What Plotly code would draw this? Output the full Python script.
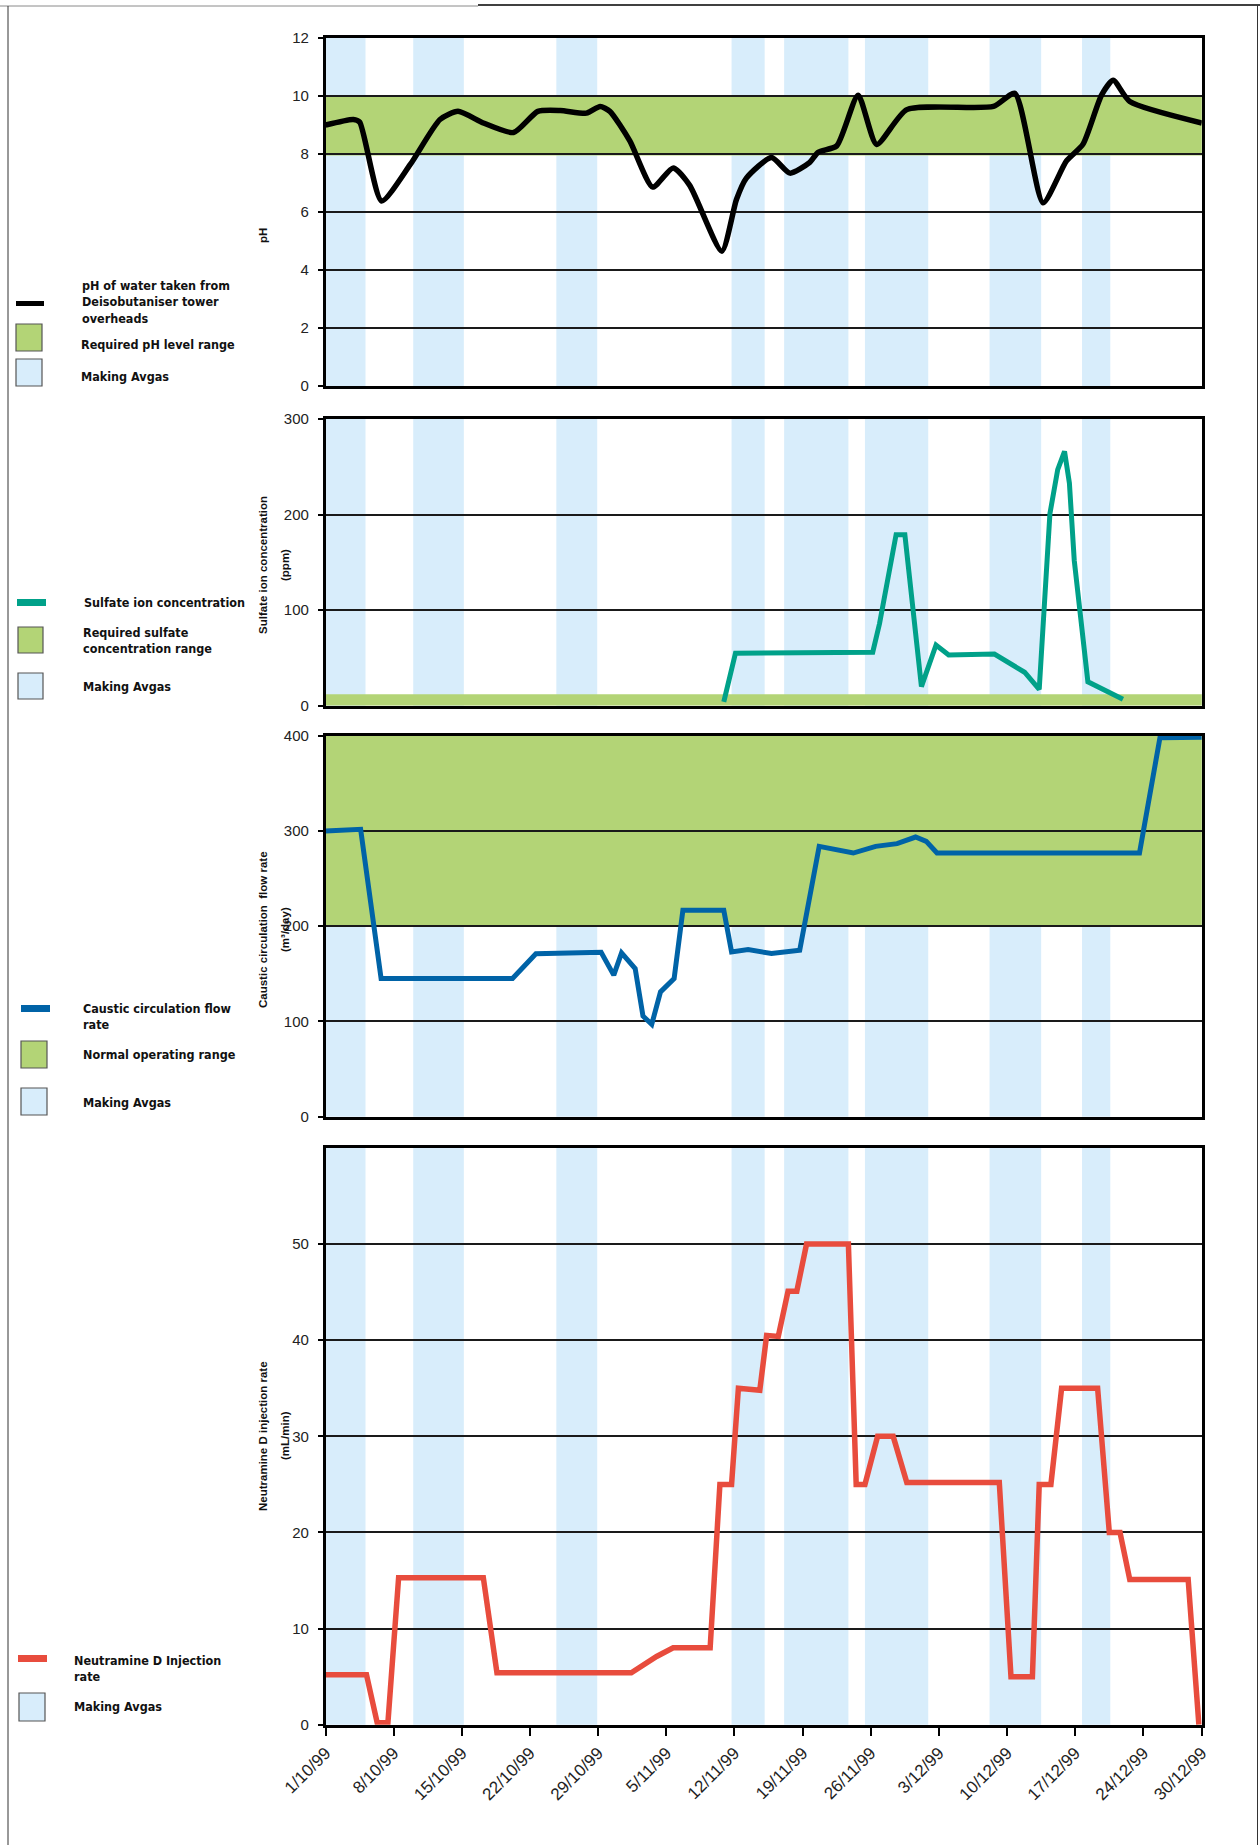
import plotly.graph_objects as go
import pandas as pd

W, H = 1260, 1845
START = pd.Timestamp("1999-10-01")
END = pd.Timestamp("1999-12-30")

# ---------------- data (x values are days after 1 Oct 1999) ----------------
avgas_start_day = [0, 9.0, 23.7, 41.7, 47.1, 55.4, 68.2, 77.7]
avgas_end_day = [4.1, 14.2, 27.9, 45.1, 53.7, 61.9, 73.5, 80.6]

ph_day = [0, 2.85, 3.5, 5.75, 8.7, 11.75, 13.6, 16.2, 19.3, 21.8, 24.1, 26.8, 28.2, 29.2,
          31.25, 33.6, 35.7, 37.4, 40.7, 42.2, 43.2, 45.8, 47.7, 49.7, 50.6, 52.5, 54.7,
          56.6, 59.7, 68.6, 70.8, 73.7, 76.1, 77.8, 79.7, 80.9, 82.6, 90]
ph_value = [9.0, 9.19, 9.1, 6.38, 7.64, 9.19, 9.47, 9.07, 8.74, 9.47, 9.5, 9.41, 9.64, 9.47,
            8.45, 6.86, 7.52, 6.92, 4.65, 6.43, 7.16, 7.88, 7.34, 7.7, 8.06, 8.28, 10.03,
            8.33, 9.53, 9.64, 10.09, 6.32, 7.76, 8.34, 10.03, 10.54, 9.81, 9.07]
ph_range = [7.95, 10]

sulfate_day = [40.9, 42.1, 56.2, 56.9, 58.6, 59.5, 61.2, 62.7, 64.0, 68.7, 71.8, 73.3,
               74.4, 75.2, 75.9, 76.4, 76.9, 78.3, 81.9]
sulfate_value = [4, 55, 56, 86, 179, 179, 20, 63.5, 53, 54, 35, 17,
                 201, 247, 266, 233, 152, 25, 6.7]
sulfate_range = [0, 12]

caustic_day = [0, 3.6, 5.7, 19.2, 21.6, 28.3, 29.6, 30.4, 31.8, 32.6, 33.5, 34.4, 35.8,
               36.7, 40.9, 41.7, 43.4, 45.8, 48.7, 50.7, 54.2, 56.5, 58.7, 60.6, 61.7,
               62.8, 83.6, 85.7, 90]
caustic_value = [300, 301.7, 145, 145, 171, 172.7, 148.6, 172, 155.6, 105.6, 97, 131, 145,
                 216.7, 216.7, 173, 175.5, 171.3, 174.8, 283.8, 276.8, 283.8, 286.7, 293.6,
                 289, 276.8, 276.8, 397.8, 398.5]
caustic_range = [200, 400]

neutramine_day = [0, 4.2, 5.3, 6.4, 7.5, 16.2, 17.6, 31.4, 34.0, 35.7, 39.5, 40.5, 41.7,
                  42.4, 44.6, 45.3, 46.5, 47.5, 48.4, 49.4, 53.7, 54.5, 55.4, 56.7, 58.3,
                  59.7, 69.2, 70.4, 72.6, 73.3, 74.5, 75.6, 79.3, 80.5, 81.6, 82.6, 88.6, 89.7]
neutramine_value = [5.2, 5.2, 0.2, 0.2, 15.3, 15.3, 5.4, 5.4, 7.1, 8.0, 8.0, 25, 25,
                    35, 34.8, 40.5, 40.4, 45.1, 45.1, 50, 50, 25, 25, 30, 30,
                    25.2, 25.2, 5, 5, 25, 25, 35, 35, 20, 20, 15.1, 15.1, 0]

tick_dates = ["1999-10-01", "1999-10-08", "1999-10-15", "1999-10-22", "1999-10-29",
              "1999-11-05", "1999-11-12", "1999-11-19", "1999-11-26", "1999-12-03",
              "1999-12-10", "1999-12-17", "1999-12-24", "1999-12-30"]
tick_labels = ["1/10/99", "8/10/99", "15/10/99", "22/10/99", "29/10/99", "5/11/99",
               "12/11/99", "19/11/99", "26/11/99", "3/12/99", "10/12/99", "17/12/99",
               "24/12/99", "30/12/99"]

# ---------------- styling ----------------
BLUE_BAND = "#d8edfb"
GREEN = "#b3d476"
C_PH = "#000000"
C_SULF = "#00a189"
C_CAUS = "#0063a7"
C_NEUT = "#e84c3d"
TICK_FONT = dict(family="Liberation Sans, Arial, sans-serif", size=15, color="#222222")
XTICK_FONT = dict(family="Liberation Sans, Arial, sans-serif", size=17, color="#222222")
LEG_FONT = dict(family="DejaVu Sans Condensed, DejaVu Sans, sans-serif", size=12.5, color="#111111")
TITLE_FONT = dict(family="Liberation Sans, Arial, sans-serif", size=11.5, color="#111111")


def to_date(days):
    return [START + pd.Timedelta(days=float(d)) for d in days]


def px_x(x):
    return x / W


def px_y(y):
    return 1 - y / H


X_LEFT, X_RIGHT = 325.6, 1201.8
panels = [
    dict(top=38, bottom=386, rng=[0, 12], tickvals=[0, 2, 4, 6, 8, 10, 12]),
    dict(top=419, bottom=705.7, rng=[0, 300], tickvals=[0, 100, 200, 300]),
    dict(top=735.7, bottom=1116.7, rng=[0, 400], tickvals=[0, 100, 200, 300, 400]),
    dict(top=1148, bottom=1724.7, rng=[0, 60], tickvals=[0, 10, 20, 30, 40, 50]),
]

fig = go.Figure()

series = [
    (ph_day, ph_value, C_PH, 5.5, "spline"),
    (sulfate_day, sulfate_value, C_SULF, 5, "linear"),
    (caustic_day, caustic_value, C_CAUS, 5, "linear"),
    (neutramine_day, neutramine_value, C_NEUT, 5.5, "linear"),
]
for i, (dx, dy, col, lw, shape) in enumerate(series):
    sfx = "" if i == 0 else str(i + 1)
    line = dict(color=col, width=lw, shape=shape)
    if shape == "spline":
        line["smoothing"] = 0.6
    fig.add_trace(go.Scatter(x=to_date(dx), y=dy, mode="lines", line=line,
                             xaxis="x" + sfx, yaxis="y" + sfx, showlegend=False,
                             hoverinfo="skip"))

shapes = []
annotations = []
layout = {}
ranges = [ph_range, sulfate_range, caustic_range, None]
for i, p in enumerate(panels):
    sfx = "" if i == 0 else str(i + 1)
    xa = dict(type="date", range=[START, END], domain=[px_x(X_LEFT), px_x(X_RIGHT)],
              anchor="y" + sfx, showgrid=False, zeroline=False, showline=True, mirror=True,
              linecolor="#000000", linewidth=2.5, fixedrange=True, automargin=False)
    if i == 3:
        xa.update(tickmode="array", tickvals=tick_dates, ticktext=tick_labels,
                  ticks="outside", ticklen=9, tickwidth=1.5, tickcolor="#000000",
                  tickangle=-45, tickfont=XTICK_FONT)
    else:
        xa.update(showticklabels=False, ticks="")
    ya = dict(range=p["rng"], domain=[px_y(p["bottom"]), px_y(p["top"])], anchor="x" + sfx,
              tickmode="array", tickvals=p["tickvals"], showgrid=True, gridcolor="#1a1a1a",
              gridwidth=1.5, zeroline=False, showline=True, mirror=True, linecolor="#000000",
              linewidth=2.5, ticks="outside", ticklen=5, tickwidth=1.5, tickcolor="#000000",
              tickfont=TICK_FONT, ticklabelstandoff=6, fixedrange=True, automargin=False)
    layout["xaxis" + sfx] = xa
    layout["yaxis" + sfx] = ya
    xref = "x" + sfx
    yref = "y" + sfx
    for s, e in zip(to_date(avgas_start_day), to_date(avgas_end_day)):
        shapes.append(dict(type="rect", xref=xref, yref=yref + " domain", x0=s, x1=e,
                           y0=0, y1=1, fillcolor=BLUE_BAND, line_width=0, layer="below"))
    if ranges[i] is not None:
        shapes.append(dict(type="rect", xref=xref + " domain", yref=yref, x0=0, x1=1,
                           y0=ranges[i][0], y1=ranges[i][1], fillcolor=GREEN,
                           line_width=0, layer="below"))


# ---------------- legends (drawn manually at the left) ----------------
def rect(x0, x1, y0, y1, fill, border=None):
    shapes.append(dict(type="rect", xref="paper", yref="paper", x0=px_x(x0), x1=px_x(x1),
                       y0=px_y(y1), y1=px_y(y0), fillcolor=fill,
                       line=dict(color=border or fill, width=1.2 if border else 0)))


def text(x, y, t):
    annotations.append(dict(xref="paper", yref="paper", x=px_x(x), y=px_y(y), text=t,
                            showarrow=False, xanchor="left", yanchor="middle", align="left",
                            font=LEG_FONT))


def ytitle(x, y, t):
    annotations.append(dict(xref="paper", yref="paper", x=px_x(x), y=px_y(y), text="<b>" + t + "</b>",
                            showarrow=False, xanchor="center", yanchor="middle",
                            textangle=-90, font=TITLE_FONT))


BORDER = "#555555"
# pH
rect(16, 44, 301, 306, C_PH)
text(80, 302, "<b>pH of water taken from<br>Deisobutaniser tower<br>overheads</b>")
rect(16, 42, 324, 351, GREEN, BORDER)
text(79, 344, "<b>Required pH level range</b>")
rect(16, 42, 359, 386, BLUE_BAND, BORDER)
text(79, 377, "<b>Making Avgas</b>")
# sulfate
rect(17, 46, 599, 606, C_SULF)
text(82, 602, "<b>Sulfate ion concentration</b>")
rect(18, 43, 627, 653, GREEN, BORDER)
text(81, 640, "<b>Required sulfate<br>concentration range</b>")
rect(18, 43, 673, 699, BLUE_BAND, BORDER)
text(81, 687, "<b>Making Avgas</b>")
# caustic
rect(21, 50, 1005, 1012, C_CAUS)
text(81, 1016, "<b>Caustic circulation flow<br>rate</b>")
rect(21, 47, 1041, 1068, GREEN, BORDER)
text(81, 1054, "<b>Normal operating range</b>")
rect(21, 47, 1088, 1115, BLUE_BAND, BORDER)
text(81, 1102, "<b>Making Avgas</b>")
# neutramine
rect(18, 47, 1655, 1662, C_NEUT)
text(72, 1668, "<b>Neutramine D Injection<br>rate</b>")
rect(19, 45, 1693, 1721, BLUE_BAND, BORDER)
text(72, 1706, "<b>Making Avgas</b>")

# axis titles
ytitle(263, 236, "pH")
ytitle(263, 565, "Sulfate ion concentration")
ytitle(285, 565, "(ppm)")
ytitle(263, 930, "Caustic circulation  flow rate")
ytitle(285, 930, "(m³/day)")
ytitle(263, 1436, "Neutramine D injection rate")
ytitle(285, 1436, "(mL/min)")

# page frame lines
shapes.append(dict(type="line", xref="paper", yref="paper", x0=0, x1=px_x(478),
                   y0=px_y(6), y1=px_y(6), line=dict(color="#8a8a8a", width=1)))
shapes.append(dict(type="line", xref="paper", yref="paper", x0=px_x(478), x1=1,
                   y0=px_y(5), y1=px_y(5), line=dict(color="#000000", width=1.5)))
shapes.append(dict(type="line", xref="paper", yref="paper", x0=px_x(8), x1=px_x(8),
                   y0=px_y(6), y1=0, line=dict(color="#333333", width=1)))
shapes.append(dict(type="line", xref="paper", yref="paper", x0=px_x(1257.5), x1=px_x(1257.5),
                   y0=px_y(5), y1=0, line=dict(color="#333333", width=1)))

fig.update_layout(width=W, height=H, margin=dict(l=0, r=0, t=0, b=0, pad=0, autoexpand=False),
                  paper_bgcolor="#ffffff", plot_bgcolor="#ffffff", showlegend=False,
                  shapes=shapes, annotations=annotations, **layout)

fig.write_html("out.html", config={"displayModeBar": False},
               post_script="document.body.style.margin='0';")
